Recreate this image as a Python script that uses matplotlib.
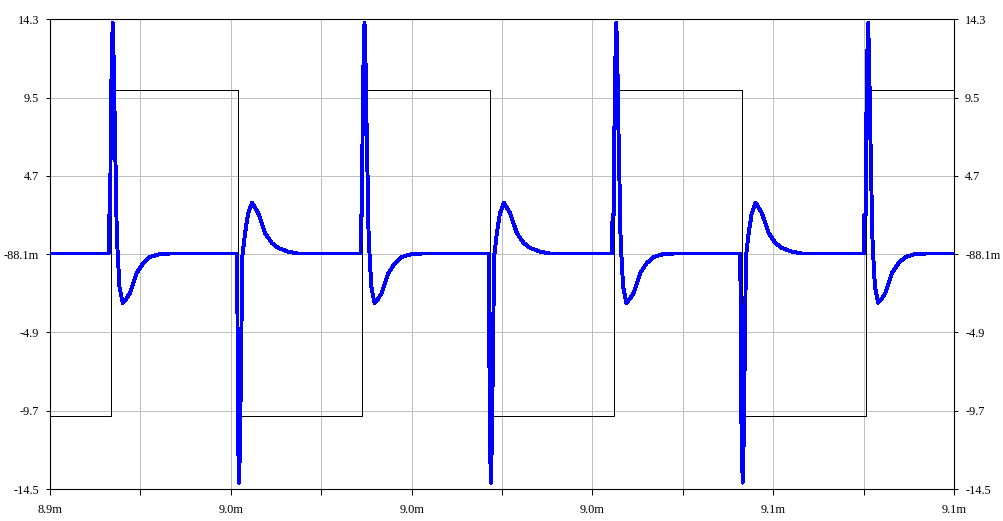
#!/usr/bin/env python3
"""
Transient view: square-wave drive (black) and the ringing response (blue)
over two-and-a-half cycles, drawn in the old scope-window style.
"""

import numpy as np
import matplotlib
matplotlib.use('Agg')
import matplotlib.pyplot as plt

# Axis window (time in ms, volts)
X_MIN, X_MAX = 8.92, 9.0995
Y_MIN, Y_MAX = -14.4906, 14.3144

X_TICK_LABELS = ['8.9m', '9.0m', '9.0m', '9.0m', '9.1m', '9.1m']
Y_TICK_LABELS = ['-14.5', '-9.7', '-4.9', '-88.1m', '4.7', '9.5', '14.3']

# Square wave drive (black)
RISE_EDGES_MS = [8.93205, 8.98205, 9.03205, 9.08205]
FALL_EDGES_MS = [8.9574, 9.0074, 9.0574]
SQUARE_HIGH = 10.0
SQUARE_LOW = -10.0

# Response trace (blue): flat baseline plus the shape read after each edge
BASELINE = -0.05
RISE_OFFSETS_US = [-0.40, -0.36, -0.10, 0.0, 0.20, 0.40, 0.60, 0.85, 1.05, 1.19,
                   1.39, 1.75, 2.38, 3.04, 3.83, 5.16, 6.47, 7.81, 9.79, 11.78]
RISE_VALUES = [-0.05, 2.3, 2.3, 7.0, 11.7, 14.1, 11.7, 7.1, 4.0, 1.4,
               -0.05, -2.1, -3.08, -2.85, -2.47, -1.24, -0.63, -0.26, -0.08, -0.05]
FALL_OFFSETS_US = [-0.32, -0.28, -0.18, -0.10, 0.14, 0.34, 0.54, 0.79, 1.33, 1.93,
                   2.72, 3.97, 5.30, 6.63, 7.94, 9.93, 11.86]
FALL_VALUES = [-0.05, -3.5, -3.5, -10.7, -14.1, -11.5, -6.6, -0.24, 1.2, 2.4,
               3.07, 2.41, 1.21, 0.6, 0.29, 0.06, -0.05]


def build_square():
    edges = sorted([(t, SQUARE_HIGH) for t in RISE_EDGES_MS] +
                   [(t, SQUARE_LOW) for t in FALL_EDGES_MS])
    times = [X_MIN] + [e[0] for e in edges] + [X_MAX]
    values = [SQUARE_LOW] + [e[1] for e in edges]
    values.append(values[-1])
    return times, values


def build_response():
    events = [(t, RISE_OFFSETS_US, RISE_VALUES) for t in RISE_EDGES_MS]
    events += [(t, FALL_OFFSETS_US, FALL_VALUES) for t in FALL_EDGES_MS]
    events.sort(key=lambda e: e[0])
    times, values = [X_MIN], [BASELINE]
    for t0, offs, vals in events:
        for off, v in zip(offs, vals):
            times.append(t0 + off / 1000.0)
            values.append(v)
    times.append(X_MAX)
    values.append(BASELINE)
    return times, values


fig = plt.figure(figsize=(10.04, 5.21), dpi=100)
ax = fig.add_axes([50 / 1004, 32 / 521, 904 / 1004, 469.7 / 521])

sq_t, sq_v = build_square()
resp_t, resp_v = build_response()

ax.plot(sq_t, sq_v, drawstyle='steps-post', color='black', linewidth=0.72, zorder=3)
ax.plot(resp_t, resp_v, color='#0000ff', linewidth=2.1,
        antialiased=False, zorder=4)

ax.set_xlim(X_MIN, X_MAX)
ax.set_ylim(Y_MIN, Y_MAX)

major_x = np.linspace(X_MIN, X_MAX, len(X_TICK_LABELS))
minor_x = (major_x[:-1] + major_x[1:]) / 2
ax.set_xticks(major_x)
ax.set_xticklabels(X_TICK_LABELS)
ax.set_xticks(minor_x, minor=True)
ax.set_yticks(np.linspace(Y_MIN, Y_MAX, len(Y_TICK_LABELS)))
ax.set_yticklabels(Y_TICK_LABELS)

ax.grid(True, which='both', color='#c0c0c0', linewidth=0.72, zorder=0)
ax.set_axisbelow(True)

for side in ['left', 'right', 'top', 'bottom']:
    ax.spines[side].set_color('black')
    ax.spines[side].set_linewidth(0.8)

ax.tick_params(axis='x', which='both', direction='out', length=4.5, width=0.72,
               color='black', labelsize=8.8, pad=6)
ax.tick_params(axis='y', direction='out', length=3, width=0.72, color='black',
               labelsize=8.8, pad=5, right=True, labelright=True)

for lbl in ax.get_xticklabels() + ax.get_yticklabels():
    lbl.set_family('Liberation Serif')

fig.savefig('out.png', dpi=100)
